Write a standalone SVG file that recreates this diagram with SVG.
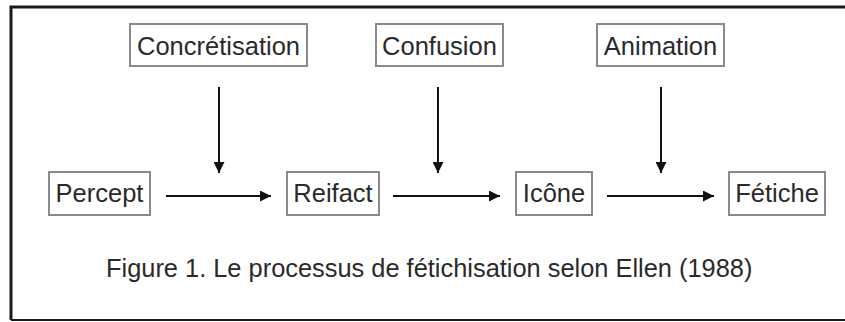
<svg xmlns="http://www.w3.org/2000/svg" width="845" height="322" viewBox="0 0 845 322">
<style>
.box{fill:#fff;stroke:#8a8a8a;stroke-width:2}
.lbl{font-family:"Liberation Sans",Arial,sans-serif;font-size:25.5px;fill:#2a2a2a;text-anchor:middle}
.cap{font-family:"Liberation Sans",Arial,sans-serif;font-size:25.4px;fill:#2a2a2a}
.conn{stroke:#111;stroke-width:2;fill:none}
</style>
<defs>
<marker id="ah" viewBox="0 0 10 10" refX="10" refY="5" markerWidth="11" markerHeight="11" orient="auto" markerUnits="userSpaceOnUse">
<path d="M0,0 L10,5 L0,10 z" fill="#111"/>
</marker>
</defs>
<rect x="0" y="0" width="845" height="322" fill="#fff"/>
<path d="M11,320 V7 H845" fill="none" stroke="#1a1a1a" stroke-width="3"/>
<path d="M11,320 H845" fill="none" stroke="#1a1a1a" stroke-width="2"/>
<g id="concretisation"><rect class="box" x="130" y="24" width="177" height="42"/><text class="lbl" x="218.5" y="55">Concrétisation</text></g>
<g id="confusion"><rect class="box" x="376" y="24" width="127" height="42"/><text class="lbl" x="439.5" y="55">Confusion</text></g>
<g id="animation"><rect class="box" x="597" y="24" width="127" height="42"/><text class="lbl" x="660.5" y="55">Animation</text></g>
<g id="percept"><rect class="box" x="49" y="172" width="101" height="43"/><text class="lbl" x="99.5" y="202">Percept</text></g>
<g id="reifact"><rect class="box" x="287" y="172" width="92" height="43"/><text class="lbl" x="333" y="202">Reifact</text></g>
<g id="icone"><rect class="box" x="516" y="172" width="76" height="43"/><text class="lbl" x="554" y="202">Icône</text></g>
<g id="fetiche"><rect class="box" x="729" y="172" width="96" height="43"/><text class="lbl" x="777" y="202">Fétiche</text></g>
<g id="connectors">
<path class="conn" d="M219,87 V173" marker-end="url(#ah)"/>
<path class="conn" d="M438,87 V173" marker-end="url(#ah)"/>
<path class="conn" d="M661,87 V173" marker-end="url(#ah)"/>
<path class="conn" d="M166,196 H271" marker-end="url(#ah)"/>
<path class="conn" d="M393,196 H500" marker-end="url(#ah)"/>
<path class="conn" d="M607,196 H714" marker-end="url(#ah)"/>
</g>
<text class="cap" x="106" y="277">Figure 1. Le processus de fétichisation selon Ellen (1988)</text>
</svg>
